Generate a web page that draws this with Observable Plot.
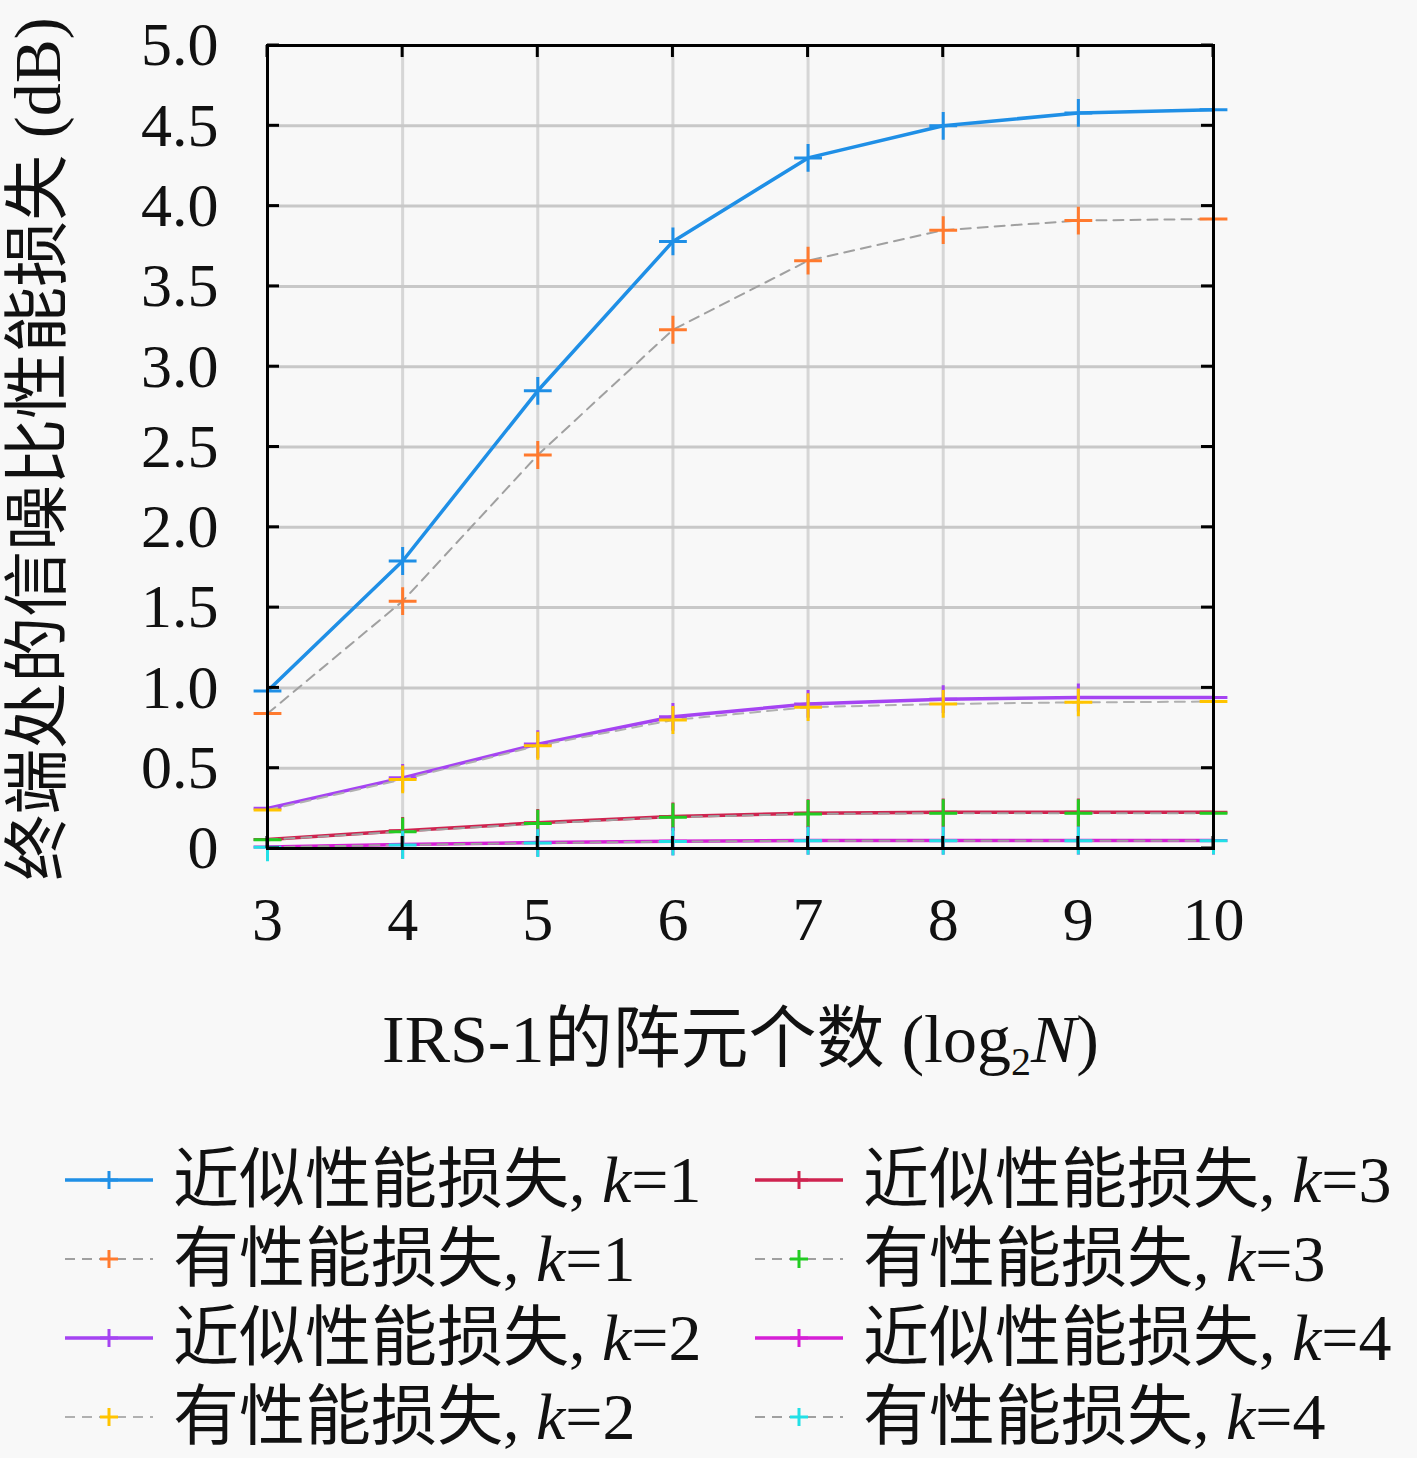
<!DOCTYPE html>
<html>
<head>
<meta charset="utf-8">
<script src="https://cdn.jsdelivr.net/npm/d3@7"></script>
<script src="https://cdn.jsdelivr.net/npm/@observablehq/plot@0.6"></script>
<style>
  html, body { margin: 0; padding: 0; background: #f8f8f8; }
  #chart svg { display: block; background: #f8f8f8; }
  .legend { display: grid; grid-template-columns: 690px 690px; margin-top: 50px; margin-left: 65px;
            font-family: "Liberation Serif", "Noto Sans CJK SC", serif; font-size: 66px; line-height: 1; color: #111; }
  .item { display: flex; align-items: center; height: 79px; white-space: nowrap; }
  .item svg { margin-right: 20px; flex: none; }
  .item i { font-style: italic; }
</style>
</head>
<body>
<div id="chart"></div>
<div class="legend" id="legend"></div>
<script>
// ---- data ----
const xValues = [3, 4, 5, 6, 7, 8, 9, 10];
const approxK1 = [0.98, 1.79, 2.85, 3.78, 4.30, 4.50, 4.58, 4.60];
const exactK1  = [0.84, 1.54, 2.45, 3.23, 3.66, 3.85, 3.91, 3.92];
const approxK2 = [0.25, 0.44, 0.65, 0.82, 0.90, 0.93, 0.94, 0.94];
const exactK2  = [0.24, 0.43, 0.64, 0.80, 0.88, 0.90, 0.91, 0.915];
const approxK3 = [0.056, 0.11, 0.16, 0.20, 0.22, 0.225, 0.225, 0.225];
const exactK3  = [0.055, 0.105, 0.155, 0.195, 0.215, 0.22, 0.22, 0.22];
const approxK4 = [0.01, 0.025, 0.037, 0.045, 0.05, 0.05, 0.05, 0.05];
const exactK4  = [0.008, 0.022, 0.034, 0.043, 0.048, 0.048, 0.049, 0.049];
const yTicks = [0, 0.5, 1.0, 1.5, 2.0, 2.5, 3.0, 3.5, 4.0, 4.5, 5.0];
const xLabel = "IRS-1的阵元个数 (log2N)";
const yLabel = "终端处的信噪比性能损失 (dB)";

const series = [
  {name: "近似性能损失", k: 1, values: approxK1, line: "#1f8fe6", marker: "#1f8fe6", dashed: false},
  {name: "有性能损失",   k: 1, values: exactK1,  line: "#a0a0a0", marker: "#ff7a2e", dashed: true},
  {name: "近似性能损失", k: 2, values: approxK2, line: "#a544f2", marker: "#a544f2", dashed: false},
  {name: "有性能损失",   k: 2, values: exactK2,  line: "#b0b0b0", marker: "#ffc400", dashed: true},
  {name: "近似性能损失", k: 3, values: approxK3, line: "#cf2450", marker: "#cf2450", dashed: false},
  {name: "有性能损失",   k: 3, values: exactK3,  line: "#a0a0a0", marker: "#22cc22", dashed: true},
  {name: "近似性能损失", k: 4, values: approxK4, line: "#d61fd6", marker: "#d61fd6", dashed: false},
  {name: "有性能损失",   k: 4, values: exactK4,  line: "#a0a0a0", marker: "#22e0e6", dashed: true}
];

const FONT = '"Liberation Serif", "Noto Sans CJK SC", serif';

const marks = [
  Plot.gridX(xValues, {stroke: "#d6d6d6", strokeWidth: 3, strokeOpacity: 1}),
  Plot.gridY(yTicks, {stroke: "#c8c8c8", strokeWidth: 3, strokeOpacity: 1})
];
for (const s of series) {
  const rows = xValues.map((x, i) => ({x, y: s.values[i]}));
  marks.push(Plot.line(rows, {x: "x", y: "y", stroke: s.line,
    strokeWidth: s.dashed ? 2 : 3.5, strokeDasharray: s.dashed ? "10,7" : null}));
  marks.push(Plot.dot(rows, {x: "x", y: "y", symbol: "plus", r: 9, stroke: s.marker, strokeWidth: 3}));
}
marks.push(
  Plot.frame({stroke: "#000", strokeWidth: 3}),
  Plot.axisY(yTicks, {anchor: "left", tickSize: 0, tickPadding: 49, fontSize: 62,
    tickFormat: d => d === 0 ? "0" : d.toFixed(1), label: null}),
  Plot.axisX(xValues, {anchor: "bottom", tickSize: 0, tickPadding: 47, fontSize: 62,
    tickFormat: d => String(d), label: null}),
  Plot.text([yLabel], {frameAnchor: "left", text: d => d, rotate: -90, dx: -229, dy: 2, fontSize: 66,
    textAnchor: "middle", lineAnchor: "middle"}),
  Plot.text([xLabel], {frameAnchor: "bottom", text: d => d, dy: 192, fontSize: 68, className: "xlab",
    textAnchor: "middle", lineAnchor: "middle"})
);

const chart = Plot.plot({
  width: 1417,
  height: 1090,
  marginLeft: 267,
  marginRight: 204,
  marginTop: 45,
  marginBottom: 242,
  style: {fontFamily: FONT, background: "#f8f8f8", color: "#111"},
  x: {domain: [3, 10]},
  y: {domain: [0, 5]},
  marks
});
document.getElementById("chart").appendChild(chart);

// inward ticks on frame via the same scales
const svg = d3.select(chart);
const xs = chart.scale("x"), ys = chart.scale("y");
const L = xs.apply(3), R = xs.apply(10), B = ys.apply(0), T = ys.apply(5);
const tg = svg.append("g").attr("stroke", "#000").attr("stroke-width", 3);
for (const t of yTicks) {
  const yy = ys.apply(t);
  tg.append("line").attr("x1", L).attr("x2", L + 12).attr("y1", yy).attr("y2", yy);
  tg.append("line").attr("x1", R).attr("x2", R - 12).attr("y1", yy).attr("y2", yy);
}
for (const t of xValues) {
  const xx = xs.apply(t);
  tg.append("line").attr("x1", xx).attr("x2", xx).attr("y1", B).attr("y2", B - 12);
  tg.append("line").attr("x1", xx).attr("x2", xx).attr("y1", T).attr("y2", T + 12);
}

// x label with subscript and italic N
const xt = svg.select(".xlab text");
xt.text(null);
xt.append("tspan").text("IRS-1的阵元个数 (log");
xt.append("tspan").attr("font-size", 40).attr("dy", 13).text("2");
xt.append("tspan").attr("font-style", "italic").attr("dy", -13).text("N");
xt.append("tspan").text(")");

// legend
const leg = d3.select("#legend");
const order = [0, 4, 1, 5, 2, 6, 3, 7];
for (const i of order) {
  const s = series[i];
  const it = leg.append("div").attr("class", "item");
  const sw = it.append("svg").attr("width", 88).attr("height", 30);
  sw.append("line").attr("x1", 0).attr("x2", 88).attr("y1", 15).attr("y2", 15)
    .attr("stroke", s.line).attr("stroke-width", s.dashed ? 2 : 3.5)
    .attr("stroke-dasharray", s.dashed ? "10,7" : null);
  sw.append("path").attr("d", "M44,6V24M35,15H53").attr("stroke", s.marker).attr("stroke-width", 3);
  it.append("span").html(`${s.name}, <i>k</i>=${s.k}`);
}
</script>
</body>
</html>
